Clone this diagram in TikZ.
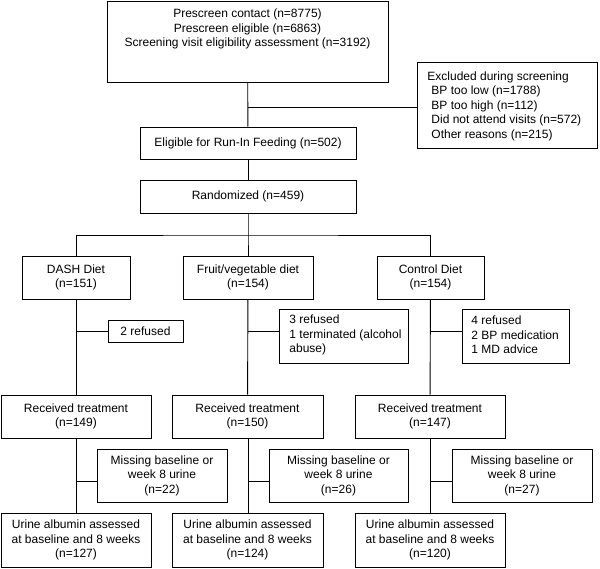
\documentclass[tikz,border=0pt]{standalone}
\usepackage{fontspec}
\setmainfont{Liberation Sans}
\usepackage{tikz}

\begin{document}
\begin{tikzpicture}[x=1pt, y=-1pt, line width=0.9pt,
    box/.style={rectangle, draw, inner sep=0pt, align=center,
      font=\fontsize{12}{14.5}\selectfont},
    note/.style={box, align=left, inner sep=0pt}]
        \useasboundingbox (0,0) rectangle (600,568);

        % Draw boxes

        \node[box, minimum width=281, minimum height=81] (prescreen) at (247.5, 41.5) {};
        \node[inner sep=0pt, anchor=north, align=center, font=\fontsize{12}{14.5}\selectfont]
          (prescreentext) at (247.5, 8.5)
          {Prescreen contact (n=8775)\\Prescreen eligible (n=6863)\\Screening visit eligibility assessment (n=3192)};
        \node[box, minimum width=180, minimum height=86] (excluded) at (507, 105) {};
        \node[note, draw=none, anchor=west] (excludedtext) at (427, 106)
          {Excluded during screening\\
           \hspace{4pt}BP too low (n=1788)\\
           \hspace{4pt}BP too high (n=112)\\
           \hspace{4pt}Did not attend visits (n=572)\\
           \hspace{4pt}Other reasons (n=215)};
        \node[box, minimum width=216, minimum height=32] (eligible) at (248, 143) {Eligible for Run-In Feeding (n=502)};
        \node[box, minimum width=216, minimum height=33] (random) at (248, 196.5) {Randomized (n=459)};

        \node[box, minimum width=108, minimum height=43] (dash) at (76, 277.5) {DASH Diet\\(n=151)};
        \node[box, minimum width=130, minimum height=43] (fruit) at (248, 277.5) {Fruit/vegetable diet\\(n=154)};
        \node[box, minimum width=107, minimum height=43] (control) at (430.5, 277.5) {Control Diet\\(n=154)};

        \node[box, minimum width=75, minimum height=22] (refusedA) at (145.5, 331) {2 refused};
        \node[box, minimum width=129, minimum height=54] (refusedB) at (343.5, 336) {};
        \node[note, draw=none, anchor=west] (refusedBtext) at (289, 335)
          {3 refused\\1 terminated (alcohol\\abuse)};
        \node[box, minimum width=107, minimum height=54] (refusedC) at (515.5, 336) {};
        \node[note, draw=none, anchor=west] (refusedCtext) at (471, 335)
          {4 refused\\2 BP medication\\1 MD advice};

        \node[box, minimum width=150, minimum height=43] (treatA) at (76, 416.5) {Received treatment\\(n=149)};
        \node[box, minimum width=151, minimum height=43] (treatB) at (247.5, 416.5) {Received treatment\\(n=150)};
        \node[box, minimum width=150, minimum height=43] (treatC) at (430, 416.5) {Received treatment\\(n=147)};

        \node[box, minimum width=130, minimum height=53] (missA) at (162, 475.5) {Missing baseline or\\week 8 urine\\(n=22)};
        \node[box, minimum width=139, minimum height=53] (missB) at (338.5, 475.5) {Missing baseline or\\week 8 urine\\(n=26)};
        \node[box, minimum width=140, minimum height=53] (missC) at (522, 475.5) {Missing baseline or\\week 8 urine\\(n=27)};

        \node[box, minimum width=150, minimum height=54] (urineA) at (76, 540) {Urine albumin assessed\\at baseline and 8 weeks\\(n=127)};
        \node[box, minimum width=151, minimum height=54] (urineB) at (247.5, 540) {Urine albumin assessed\\at baseline and 8 weeks\\(n=124)};
        \node[box, minimum width=150, minimum height=54] (urineC) at (430, 540) {Urine albumin assessed\\at baseline and 8 weeks\\(n=120)};

        % Draw lines
        \coordinate (exclsplit) at (248, 107);
        \coordinate (armsplit) at (248, 235);
        \coordinate (refsplitB) at (248, 331);
        \coordinate (refsplitC) at (430.5, 331);
        \coordinate (misssplitA) at (76, 481);
        \coordinate (misssplitB) at (248, 481);
        \coordinate (misssplitC) at (430, 481);

        \draw (prescreen) -- (eligible);
        \draw (exclsplit) -- (exclsplit -| excluded.west);
        \draw (eligible) -- (random);
        \draw (random) -- (armsplit) -- (fruit);
        \draw (dash.north) |- (armsplit) -| (control.north);

        \draw (dash) -- (treatA);
        \draw (fruit) -- (treatB);
        \draw (control) -- (treatC);
        \draw (dash.south |- refusedA.west) -- (refusedA.west);
        \draw (refsplitB) -- (refsplitB -| refusedB.west);
        \draw (refsplitC) -- (refsplitC -| refusedC.west);

        \draw (treatA) -- (urineA);
        \draw (treatB.south -| misssplitB) -- (urineB.north -| misssplitB);
        \draw (treatC) -- (urineC);
        \draw (misssplitA) -- (misssplitA -| missA.west);
        \draw (misssplitB) -- (misssplitB -| missB.west);
        \draw (misssplitC) -- (misssplitC -| missC.west);
      \end{tikzpicture}
\end{document}
